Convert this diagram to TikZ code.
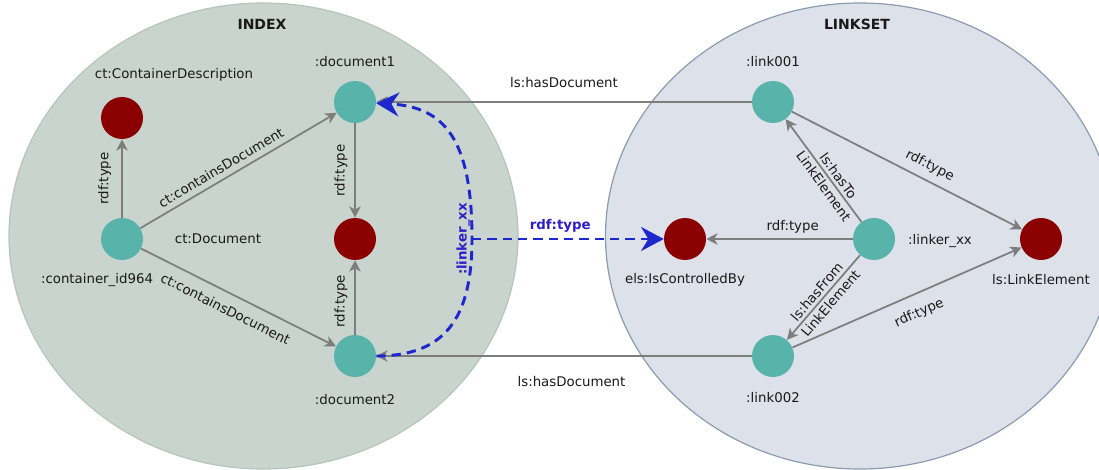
\documentclass[tikz,border=0pt]{standalone}
\usepackage{fontspec}
\setmainfont{DejaVu Sans}
\usetikzlibrary{arrows.meta,shapes.geometric}
\definecolor{indexfill}{RGB}{201,212,207}
\definecolor{indexdraw}{RGB}{182,196,190}
\definecolor{linkfill}{RGB}{221,226,234}
\definecolor{linkdraw}{RGB}{140,155,175}
\definecolor{tealnode}{RGB}{88,179,171}
\definecolor{rednode}{RGB}{139,0,0}
\definecolor{edgegray}{RGB}{125,125,125}
\definecolor{dashblue}{RGB}{30,38,205}
\definecolor{bluetext}{RGB}{48,30,200}
\definecolor{txt}{RGB}{25,25,25}
\begin{document}
\begin{tikzpicture}[x=0.75pt,y=-0.75pt,
  every node/.style={font=\fontsize{10}{12}\selectfont, text=txt},
  region/.style={ellipse, minimum width=381.75pt, minimum height=349.5pt, inner sep=0pt, line width=0.9pt},
  res/.style={circle, minimum size=31.5pt, inner sep=0pt, fill=tealnode},
  cls/.style={circle, minimum size=31.5pt, inner sep=0pt, fill=rednode},
  rel/.style={draw=edgegray, line width=1.3pt, -{Stealth[length=8.5pt,width=8.5pt,inset=2.5pt]}},
  linkpath/.style={draw=dashblue, line width=2.2pt, dash pattern=on 7pt off 4.5pt, -{Stealth[length=17pt,width=18pt,inset=5.5pt]}},
  lbl/.style={inner sep=1.5pt},
  title/.style={font=\fontsize{10.5}{12}\selectfont\bfseries},
  blbl/.style={font=\fontsize{10}{12}\selectfont\bfseries, text=bluetext, inner sep=1.5pt},
]
\useasboundingbox (0,0) rectangle (1099,470);
% regions
\node[region, fill=indexfill, draw=indexdraw] (index) at (263.5,236) {};
\node[region, fill=linkfill, draw=linkdraw] (linkset) at (860,236) {};
\node[title] (indext) at (262,24) {INDEX};
\node[title] (linksett) at (857,24) {LINKSET};
% nodes
\node[cls] (cd) at (122,118) {};
\node[res] (cont) at (122,239) {};
\node[res] (d1) at (355,102) {};
\node[cls] (cdoc) at (355,239) {};
\node[res] (d2) at (355,356) {};
\node[res] (l1) at (773,102) {};
\node[res] (lx) at (874,239) {};
\node[cls] (els) at (685,239) {};
\node[cls] (le) at (1041,239) {};
\node[res] (l2) at (773,356) {};
% node labels
\node (cdT) at (174,75) {ct:ContainerDescription};
\node (contT) at (97,280) {:container\_id964};
\node (cdocT) at (218,239) {ct:Document};
\node (d1T) at (355,62) {:document1};
\node (d2T) at (355,400) {:document2};
\node (l1T) at (773,62) {:link001};
\node (l2T) at (773,398) {:link002};
\node (lxT) at (940,241) {:linker\_xx};
\node (elsT) at (685,280) {els:IsControlledBy};
\node (leT) at (1041,280) {ls:LinkElement};
% edges
\draw[rel] (cont) -- node[lbl, rotate=90, above=6pt] {rdf:type} (cd);
\draw[rel] (cont) -- node[lbl, sloped, above=2.5pt, pos=0.44] {ct:containsDocument} (d1);
\draw[rel] (cont) -- node[lbl, sloped, below=6pt, pos=0.47] {ct:containsDocument} (d2);
\draw[rel] (d1) -- node[lbl, rotate=90, above=3.5pt] {rdf:type} (cdoc);
\draw[rel] (d2) -- node[lbl, rotate=90, above=3.5pt, pos=0.45] {rdf:type} (cdoc);
\draw[rel] (l1) -- node[lbl, above=8.5pt] {ls:hasDocument} (d1);
\draw[rel] (l2) -- node[lbl, below=13.5pt, pos=0.48] {ls:hasDocument} (d2);
\draw[rel] (l1) -- node[lbl, sloped, above=4pt, pos=0.57] {rdf:type} (le);
\draw[rel] (l2) -- node[lbl, sloped, below=7.5pt, pos=0.52] {rdf:type} (le);
\draw[rel] (lx) -- node[lbl, above=2pt, pos=0.41] {rdf:type} (els);
\draw[rel] (lx) -- node[lbl, rotate=-54, align=center, pos=0.4] {ls:hasTo\\[1.5pt]LinkElement} (l1);
\draw[rel] (lx) -- node[lbl, rotate=49.5, align=center, pos=0.5] {ls:hasFrom\\[1.5pt]LinkElement} (l2);
% linker
\coordinate (J) at (472,239);
\draw[linkpath] (d2) .. controls (443,356) and (472,321) .. (J) .. controls (472,140) and (445,107) .. (d1);
\node[blbl, rotate=90, anchor=south] (lxl) at (J) {:linker\_xx};
\draw[linkpath] (J) -- node[blbl, above=2pt, pos=0.46] {rdf:type} (els);
\end{tikzpicture}
\end{document}
